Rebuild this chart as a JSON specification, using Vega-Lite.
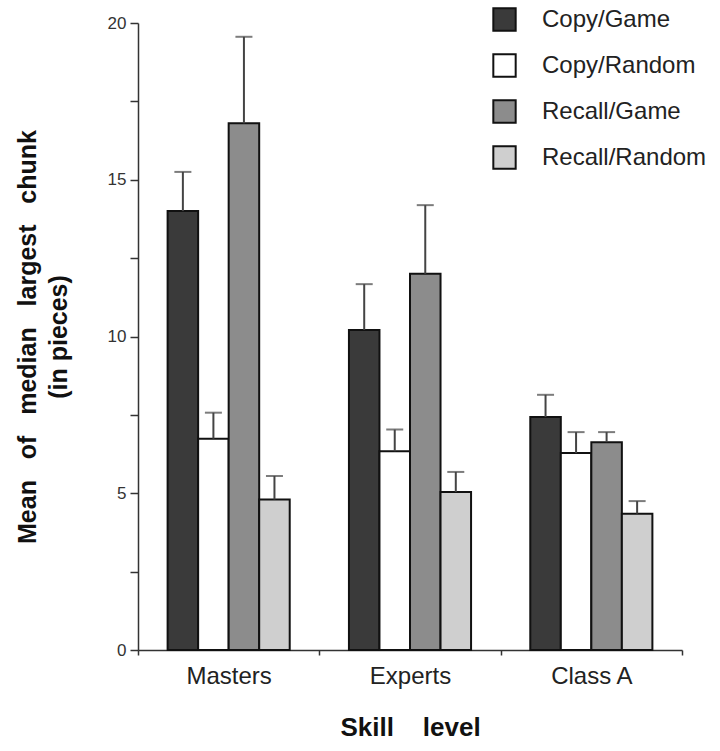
{
  "$schema": "https://vega.github.io/schema/vega-lite/v6.json",
  "autosize": {"type": "none"},
  "padding": {"left": 138, "top": 23, "right": 38, "bottom": 101},
  "width": 544,
  "height": 627,
  "config": {
    "view": {"stroke": null},
    "font": "Liberation Sans"
  },
  "data": {
    "values": [
      {"group": "Masters", "cond": "Copy/Game", "mean": 14.0, "upper": 15.25},
      {"group": "Masters", "cond": "Copy/Random", "mean": 6.74, "upper": 7.57},
      {"group": "Masters", "cond": "Recall/Game", "mean": 16.8, "upper": 19.56},
      {"group": "Masters", "cond": "Recall/Random", "mean": 4.8, "upper": 5.55},
      {"group": "Experts", "cond": "Copy/Game", "mean": 10.21, "upper": 11.67},
      {"group": "Experts", "cond": "Copy/Random", "mean": 6.34, "upper": 7.03},
      {"group": "Experts", "cond": "Recall/Game", "mean": 12.0, "upper": 14.19},
      {"group": "Experts", "cond": "Recall/Random", "mean": 5.04, "upper": 5.68},
      {"group": "Class A", "cond": "Copy/Game", "mean": 7.43, "upper": 8.14},
      {"group": "Class A", "cond": "Copy/Random", "mean": 6.28, "upper": 6.95},
      {"group": "Class A", "cond": "Recall/Game", "mean": 6.63, "upper": 6.95},
      {"group": "Class A", "cond": "Recall/Random", "mean": 4.35, "upper": 4.75}
    ]
  },
  "encoding": {
    "x": {
      "field": "group", "type": "nominal", "sort": ["Masters", "Experts", "Class A"],
      "scale": {"paddingInner": 0, "paddingOuter": 0},
      "axis": {
        "title": "Skill\u00a0\u00a0\u00a0\u00a0level", "titleFont": "Liberation Sans", "titleFontSize": 26, "titleFontWeight": "bold",
        "titleColor": "#111", "titlePadding": 26,
        "labelAngle": 0, "labelFontSize": 24, "labelColor": "#222", "labelPadding": 9,
        "tickBand": "extent", "tickSize": 5, "tickColor": "#333", "tickWidth": 1.5,
        "domainColor": "#333", "domainWidth": 1.5
      }
    },
    "xOffset": {
      "field": "cond", "type": "nominal",
      "sort": ["Copy/Game", "Copy/Random", "Recall/Game", "Recall/Random"],
      "scale": {"paddingInner": 0, "paddingOuter": 0.97}
    }
  },
  "layer": [
    {
      "mark": {"type": "bar", "stroke": "#111", "strokeWidth": 2},
      "encoding": {
        "y": {
          "field": "mean", "type": "quantitative",
          "scale": {"domain": [0, 20], "nice": false},
          "axis": {
            "title": ["Mean\u00a0\u00a0\u00a0of\u00a0\u00a0\u00a0median\u00a0\u00a0\u00a0largest\u00a0\u00a0\u00a0chunk", "(in pieces)"],
            "titleFontSize": 25, "titleFontWeight": "bold", "titleColor": "#111",
            "titleLineHeight": 31, "titlePadding": 36,
            "values": [0, 2.5, 5, 7.5, 10, 12.5, 15, 17.5, 20],
            "labelExpr": "datum.value % 5 === 0 ? datum.label : ''",
            "labelFontSize": 17, "labelColor": "#333", "labelPadding": 4,
            "tickSize": 8, "tickColor": "#333", "tickWidth": 1.5,
            "domainColor": "#333", "domainWidth": 1.5, "grid": false,
            "encode": {"ticks": {"update": {"x2": {"signal": "datum.value % 5 === 0 ? -8 : -4"}}}}
          }
        },
        "fill": {
          "field": "cond", "type": "nominal",
          "scale": {
            "domain": ["Copy/Game", "Copy/Random", "Recall/Game", "Recall/Random"],
            "range": ["#3a3a3a", "#ffffff", "#8c8c8c", "#cfcfcf"]
          },
          "legend": {
            "title": null, "orient": "none", "legendX": 354, "legendY": -16,
            "symbolType": "square", "symbolSize": 500, "symbolStrokeColor": "#111", "symbolStrokeWidth": 2,
            "labelFontSize": 24, "labelColor": "#222", "labelOffset": 25, "rowPadding": 15,
            "labelLimit": 300
          }
        }
      }
    },
    {
      "mark": {"type": "rule", "color": "#444", "strokeWidth": 2},
      "encoding": {
        "y": {"field": "mean", "type": "quantitative"},
        "y2": {"field": "upper"}
      }
    },
    {
      "mark": {"type": "tick", "color": "#444", "thickness": 2, "size": 17},
      "encoding": {
        "y": {"field": "upper", "type": "quantitative"}
      }
    }
  ]
}
